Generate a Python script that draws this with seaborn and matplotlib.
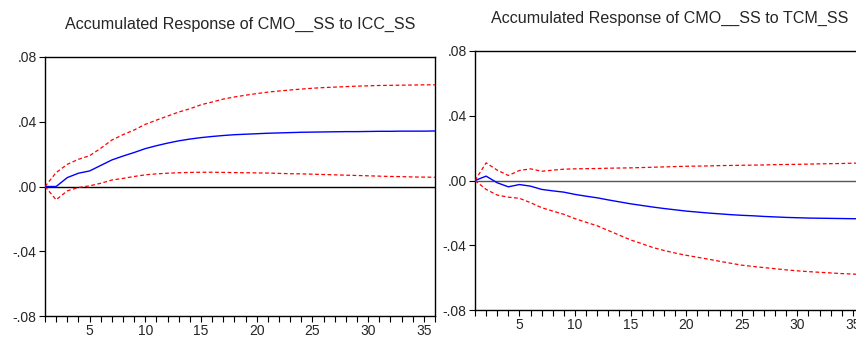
import numpy as np
import pandas as pd
import matplotlib
matplotlib.use("Agg")
import matplotlib.pyplot as plt
import seaborn as sns

periods = list(range(1, 37))

icc_resp = [0, 0, .0055, .0082, .0096, .013, .0164, .0188, .021, .0234, .0252, .0268,
            .0282, .0293, .0302, .0309, .0315, .032, .0323, .0326, .0329, .0331, .0333, .0335,
            .0336, .0337, .0338, .0339, .0339, .034, .0341, .0341, .0342, .0342, .0342, .0343]
icc_upper = [0, .0086, .0137, .0168, .019, .0236, .0287, .032, .0349, .0384, .041, .0435,
             .046, .048, .0505, .0522, .054, .0553, .0564, .0574, .0583, .059, .0596, .0602,
             .0607, .0611, .0614, .0617, .062, .0622, .0624, .0625, .0626, .0627, .0628, .0628]
icc_lower = [0, -.0082, -.0027, -.0006, .0004, .002, .004, .005, .0062, .0072, .0078, .0082,
             .0085, .0087, .0088, .0088, .0087, .0086, .0085, .0084, .0083, .0081, .0079, .0078,
             .0076, .0074, .0072, .007, .0068, .0066, .0064, .0062, .0061, .0059, .0058, .0057]

tcm_resp = [0, .0027, -.0014, -.0039, -.0025, -.0035, -.0055, -.0064, -.0072, -.0086, -.0097, -.0107,
            -.012, -.0132, -.0144, -.0154, -.0164, -.0173, -.0181, -.0189, -.0195, -.0201, -.0206, -.0211,
            -.0215, -.0218, -.0222, -.0225, -.0228, -.023, -.0232, -.0233, -.0234, -.0235, -.0236, -.0237]
tcm_upper = [0, .0109, .0064, .0031, .0062, .0072, .0057, .0064, .007, .0072, .0073, .0074,
             .0076, .0077, .0078, .008, .0082, .0084, .0086, .0088, .0089, .009, .0092, .0093,
             .0094, .0095, .0096, .0098, .0099, .01, .0101, .0103, .0104, .0105, .0107, .0108]
tcm_lower = [0, -.0055, -.009, -.0103, -.011, -.0137, -.0168, -.0189, -.0209, -.0236, -.0258, -.028,
             -.0309, -.0338, -.0367, -.039, -.0414, -.0432, -.0448, -.0462, -.0474, -.0486, -.0499, -.0511,
             -.0523, -.0531, -.0538, -.0545, -.0552, -.0558, -.0563, -.0567, -.0571, -.0575, -.0578, -.0582]

titles = ["Accumulated Response of CMO__SS to ICC_SS",
          "Accumulated Response of CMO__SS to TCM_SS"]
ytick_vals = [-.08, -.04, 0.0, .04, .08]
ytick_labels = ["-.08", "-.04", ".00", ".04", ".08"]
xtick_vals = [5, 10, 15, 20, 25, 30, 35]

sns.set_style("white")
plt.rcParams['font.family'] = ['Liberation Sans', 'DejaVu Sans']

fig = plt.figure(figsize=(8.56, 3.39), dpi=100)
ax1 = fig.add_axes([45/856, 1-316/339, 390/856, 259/339])
ax2 = fig.add_axes([475/856, 1-310/339, 389/856, 259/339])

panels = [
    (ax1, icc_resp, icc_upper, icc_lower, titles[0], "black"),
    (ax2, tcm_resp, tcm_upper, tcm_lower, titles[1], "#555555"),
]

for ax, resp, up, lo, title, zc in panels:
    df = pd.DataFrame({"period": periods, "resp": resp, "up": up, "lo": lo})
    ax.axhline(0, color=zc, lw=1.0, zorder=1)
    sns.lineplot(data=df, x="period", y="up", ax=ax, color="red", lw=0.9,
                 linestyle=(0, (3, 2)), zorder=3)
    sns.lineplot(data=df, x="period", y="lo", ax=ax, color="red", lw=0.9,
                 linestyle=(0, (3, 2)), zorder=3)
    sns.lineplot(data=df, x="period", y="resp", ax=ax, color="blue", lw=1.0, zorder=4)
    ax.set_xlim(1, 36)
    ax.set_ylim(-.08, .08)
    ax.set_yticks(ytick_vals)
    ax.set_yticklabels(ytick_labels)
    ax.set_xticks(xtick_vals)
    ax.set_xticks(periods, minor=True)
    ax.tick_params(axis="x", which="both", direction="out", length=4, width=0.8,
                   bottom=True, labelsize=10, pad=2, color="black")
    ax.tick_params(axis="y", which="major", direction="out", length=4, width=0.8,
                   left=True, labelsize=10, pad=2, color="black")
    ax.set_xlabel("")
    ax.set_ylabel("")
    for s in ax.spines.values():
        s.set_visible(True)
        s.set_color("black")
        s.set_linewidth(1.0)
    ax.set_title(title, fontsize=11.6, pad=20)

fig.savefig("out.png", dpi=100)
